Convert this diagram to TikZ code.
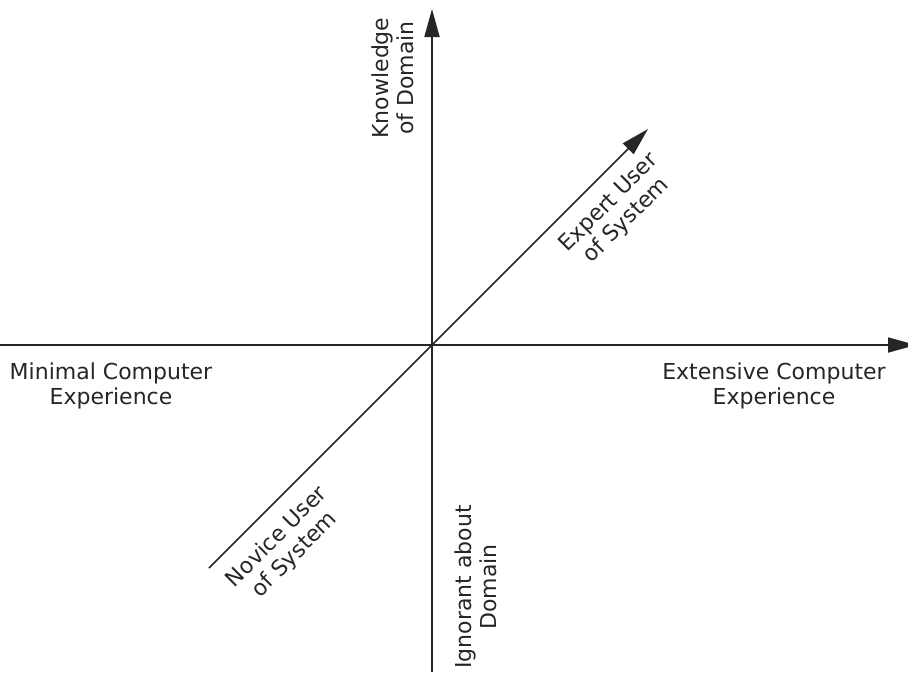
\documentclass[tikz,border=0pt]{standalone}
\usepackage{fontspec}
\setmainfont{DejaVu Sans}
\usetikzlibrary{arrows.meta}
\begin{document}
\begin{tikzpicture}[x=1pt,y=-1pt,
  axis/.style={line width=1.8pt,draw=black!85,-{Triangle[length=28pt,width=15pt]}},
  plainaxis/.style={line width=1.8pt,draw=black!85},
  lbl/.style={align=center,inner sep=0pt,text=black!85,font=\fontsize{22}{25}\selectfont}]
\useasboundingbox (0,0) rectangle (908,675);
\coordinate (O) at (432,345);
\coordinate (left) at (0,345);
\coordinate (right) at (916,345);
\coordinate (bottom) at (432,672);
\coordinate (top) at (432,9);
\coordinate (dlow) at (209,568);
\coordinate (dhigh) at (648,129);
\draw[plainaxis] (left) -- (O);
\draw[axis] (O) -- (right);
\draw[plainaxis] (bottom) -- (O);
\draw[axis] (O) -- (top);
\draw[plainaxis,line width=1.6pt] (dlow) -- (O);
\draw[axis,line width=1.6pt] (O) -- (dhigh);
\node[lbl,rotate=90] (know) at (393,78) {Knowledge\\of Domain};
\node[lbl,rotate=90] (ign) at (476,587) {Ignorant about\\Domain};
\node[lbl,rotate=45] (expert) at (618,212) {Expert User\\of System};
\node[lbl,rotate=45] (novice) at (286,546) {Novice User\\of System};
\node[lbl] (minimal) at (111,386) {Minimal Computer\\Experience};
\node[lbl] (extensive) at (774,386) {Extensive Computer\\Experience};
\end{tikzpicture}
\end{document}
